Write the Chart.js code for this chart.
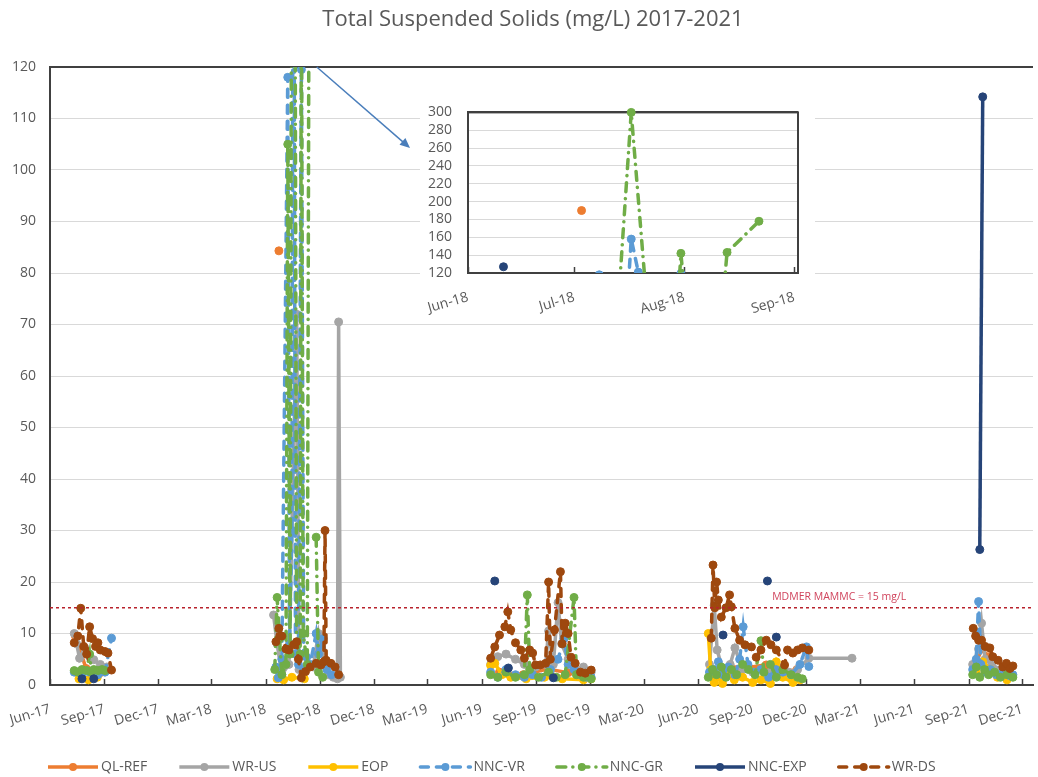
<!DOCTYPE html>
<html>
<head>
<meta charset="utf-8">
<title>Total Suspended Solids (mg/L) 2017-2021</title>
<script src="https://cdn.jsdelivr.net/npm/chart.js@4.4.1/dist/chart.umd.min.js"></script>
<style>
  html, body { margin: 0; padding: 0; background: #fff; }
  #wrap { position: relative; width: 1038px; height: 777px; }
  #tssChart { position: absolute; left: 0; top: 0; }
  #zoomChart { position: absolute; left: 420px; top: 88px; background: #fff; }
</style>
</head>
<body>
<div id="wrap">
  <canvas id="tssChart" width="1038" height="777"></canvas>
  <canvas id="zoomChart" width="395" height="232"></canvas>
</div>
<script>
// TSS results per station as [sample date, mg/L]; a null value ends the season's line
var qlRef = [
  ['2017-07-14', 9.5], ['2017-08-01', 3.2], ['2017-08-25', 2.4],
  ['2018-01-01', null],
  ['2018-06-23', 84.3], ['2018-06-28', null], ['2018-07-03', 190],
  ['2019-01-01', null],
  ['2019-07-01', 2.5], ['2019-08-10', 2.0], ['2019-09-20', 3.1], ['2019-10-25', 2.4],
  ['2020-01-01', null],
  ['2020-07-01', 2.0], ['2020-08-01', 3.0], ['2020-09-24', 3.9], ['2020-10-20', 2.5], ['2020-11-15', 3.0],
  ['2021-06-01', null],
  ['2021-09-12', 4.0], ['2021-09-24', 7.0], ['2021-10-05', 5.5], ['2021-10-20', 2.5], ['2021-11-05', 3.0]
];

var wrUs = [
  ['2017-07-12', 10], ['2017-07-16', 8], ['2017-07-21', 5.2], ['2017-07-30', 7.2], ['2017-08-07', 5.5],
  ['2017-08-14', 4.9], ['2017-08-25', 4.0], ['2017-09-05', 3.5],
  ['2018-01-01', null],
  ['2018-06-14', 13.6], ['2018-06-20', 8], ['2018-06-28', 2], ['2018-07-10', 4], ['2018-07-23', 72],
  ['2018-07-27', 3], ['2018-08-05', 3], ['2018-08-20', 3.5], ['2018-08-29', 10], ['2018-09-05', 6],
  ['2018-09-15', 2], ['2018-09-23', 1.5], ['2018-09-30', 1.2], ['2018-10-02', 70.5], ['2018-10-05', 1.5],
  ['2019-01-01', null],
  ['2019-06-16', 4], ['2019-06-28', 5.5], ['2019-07-12', 6], ['2019-07-28', 5], ['2019-08-12', 4],
  ['2019-08-31', 3.5], ['2019-09-17', 4], ['2019-09-22', 10.5], ['2019-09-30', 4], ['2019-10-08', 16],
  ['2019-10-14', 8], ['2019-10-25', 5], ['2019-11-06', 3], ['2019-11-20', 3.5], ['2019-12-03', 2.5],
  ['2020-01-01', null],
  ['2020-06-20', 4], ['2020-06-28', 15.5], ['2020-07-03', 6.8], ['2020-07-12', 3], ['2020-07-25', 4],
  ['2020-08-02', 7.2], ['2020-08-15', 3], ['2020-09-01', 2.5], ['2020-09-15', 3], ['2020-10-01', 2.5],
  ['2020-10-15', 3], ['2020-11-01', 2.5], ['2020-11-16', 3], ['2020-12-05', 5.2], ['2021-02-16', 5.2],
  ['2021-06-01', null],
  ['2021-09-08', 4], ['2021-09-18', 7], ['2021-09-23', 12], ['2021-09-29', 5], ['2021-10-10', 4],
  ['2021-10-25', 3], ['2021-11-10', 2.5]
];

var eop = [
  ['2017-07-20', 1.2], ['2017-08-05', 1.0], ['2017-08-20', 1.5],
  ['2018-01-01', null],
  ['2018-06-20', 1.2], ['2018-07-01', 1.0], ['2018-07-15', 1.5], ['2018-08-05', 1.2],
  ['2019-01-01', null],
  ['2019-06-16', 3.8], ['2019-06-23', 4.2], ['2019-07-05', 2], ['2019-07-20', 1.5], ['2019-08-15', 1.2],
  ['2019-09-15', 1.5], ['2019-10-15', 1.2], ['2019-11-20', 1.0], ['2019-12-03', 1.2],
  ['2020-01-01', null],
  ['2020-06-18', 10], ['2020-06-22', 3], ['2020-06-28', 0.5], ['2020-07-05', 1.5], ['2020-07-12', 0.3],
  ['2020-07-20', 2], ['2020-08-01', 1], ['2020-08-15', 1.5], ['2020-09-01', 0.5], ['2020-09-15', 1],
  ['2020-10-01', 0.3], ['2020-10-11', 4.5], ['2020-10-22', 1.5], ['2020-11-08', 0.5], ['2020-11-20', 1],
  ['2021-06-01', null],
  ['2021-09-14', 2.5], ['2021-09-25', 4.5], ['2021-10-08', 3], ['2021-10-20', 1.5], ['2021-11-05', 1]
];

var nncVr = [
  ['2017-07-12', 2.5], ['2017-07-25', 1.8], ['2017-08-07', 2.5], ['2017-08-21', 2.0], ['2017-09-02', 2.5],
  ['2017-09-13', 9.1],
  ['2018-01-01', null],
  ['2018-06-18', 3.5], ['2018-06-22', 1.4], ['2018-06-28', 5], ['2018-07-08', 118], ['2018-07-11', 8],
  ['2018-07-15', 30], ['2018-07-17', 158], ['2018-07-19', 121], ['2018-07-21', 6], ['2018-07-26', 4],
  ['2018-07-31', 119.5], ['2018-08-04', 3], ['2018-08-09', 5.4], ['2018-08-15', 4], ['2018-08-25', 10],
  ['2018-08-29', 6], ['2018-09-06', 9], ['2018-09-12', 3], ['2018-09-20', 2],
  ['2019-01-01', null],
  ['2019-06-16', 2.5], ['2019-06-28', 1.5], ['2019-07-12', 3], ['2019-07-28', 2], ['2019-08-12', 1.5],
  ['2019-08-26', 2], ['2019-09-10', 1.5], ['2019-09-25', 3], ['2019-10-08', 5], ['2019-10-18', 9],
  ['2019-10-25', 4], ['2019-11-04', 3], ['2019-11-15', 2], ['2019-11-25', 1.5], ['2019-12-03', 1.5],
  ['2020-01-01', null],
  ['2020-06-20', 2.5], ['2020-06-28', 3], ['2020-07-05', 4.5], ['2020-07-13', 2], ['2020-07-22', 3.5],
  ['2020-08-02', 2], ['2020-08-10', 5], ['2020-08-16', 11.3], ['2020-08-24', 4], ['2020-09-05', 2.5],
  ['2020-09-15', 3], ['2020-09-28', 1.5], ['2020-10-10', 3], ['2020-10-22', 2.5], ['2020-11-05', 2],
  ['2020-11-20', 4], ['2020-12-01', 7.4], ['2020-12-05', 3.6],
  ['2021-06-01', null],
  ['2021-09-08', 3], ['2021-09-14', 5], ['2021-09-18', 16.2], ['2021-09-22', 4], ['2021-09-29', 2.5],
  ['2021-10-08', 3], ['2021-10-18', 2], ['2021-10-29', 2.5], ['2021-11-10', 1.8], ['2021-11-15', 2]
];

var nncGr = [
  ['2017-07-12', 2.8], ['2017-07-18', 2.5], ['2017-07-25', 3.0], ['2017-08-02', 2.8], ['2017-08-07', 6.0],
  ['2017-08-10', 2.5], ['2017-08-14', 3.0], ['2017-08-21', 2.8], ['2017-08-28', 3.0], ['2017-09-02', 2.8],
  ['2018-01-01', null],
  ['2018-06-16', 3], ['2018-06-20', 17], ['2018-06-24', 9], ['2018-06-28', 2], ['2018-07-05', 4],
  ['2018-07-08', 105], ['2018-07-12', 6], ['2018-07-17', 300], ['2018-07-23', 8], ['2018-07-29', 6],
  ['2018-07-31', 142], ['2018-08-03', 10], ['2018-08-10', 4], ['2018-08-13', 143], ['2018-08-22', 178],
  ['2018-08-23', null],
  ['2018-08-25', 28.7], ['2018-08-29', 2.5], ['2018-09-05', 1.5],
  ['2019-01-01', null],
  ['2019-06-16', 2], ['2019-06-28', 1.5], ['2019-07-12', 2.5], ['2019-07-28', 1.5], ['2019-08-12', 2],
  ['2019-08-17', 17.5], ['2019-08-21', 3], ['2019-09-05', 1.5], ['2019-09-22', 2.5], ['2019-10-05', 1.5],
  ['2019-10-20', 2], ['2019-11-04', 17], ['2019-11-08', 2], ['2019-11-20', 1.5], ['2019-12-03', 1.2],
  ['2020-01-01', null],
  ['2020-06-18', 1.5], ['2020-06-25', 3], ['2020-07-02', 2], ['2020-07-10', 3.5], ['2020-07-18', 1.5],
  ['2020-07-27', 3], ['2020-08-05', 2], ['2020-08-15', 4], ['2020-08-25', 3], ['2020-09-05', 2],
  ['2020-09-15', 8.6], ['2020-09-20', 2.5], ['2020-10-01', 4], ['2020-10-11', 1.5], ['2020-10-22', 3],
  ['2020-11-05', 2], ['2020-11-16', 1.5], ['2020-11-24', 1.2],
  ['2021-06-01', null],
  ['2021-09-08', 2], ['2021-09-14', 3.5], ['2021-09-20', 1.5], ['2021-09-28', 3], ['2021-10-05', 2],
  ['2021-10-15', 2.5], ['2021-10-25', 1.5], ['2021-11-05', 2], ['2021-11-15', 1.5]
];

var nncExp = [
  ['2017-07-25', 1.2], ['2017-08-01', null], ['2017-08-14', 1.2],
  ['2018-01-01', null],
  ['2018-06-11', 127],
  ['2019-01-01', null],
  ['2019-06-23', 20.2], ['2019-07-01', null], ['2019-07-16', 3.3], ['2019-08-01', null], ['2019-09-30', 1.4],
  ['2020-01-01', null],
  ['2020-07-13', 9.7], ['2020-08-01', null], ['2020-09-26', 20.2], ['2020-10-01', null], ['2020-10-11', 9.3],
  ['2021-06-01', null],
  ['2021-09-20', 26.3], ['2021-09-25', 114.2]
];

var wrDs = [
  ['2017-07-12', 8.2], ['2017-07-18', 9.5], ['2017-07-23', 14.9], ['2017-07-28', 7.5], ['2017-08-02', 6.0],
  ['2017-08-07', 11.3], ['2017-08-12', 9.0], ['2017-08-17', 7.5], ['2017-08-21', 8.2], ['2017-08-25', 6.8],
  ['2017-09-02', 6.5], ['2017-09-07', 6.2], ['2017-09-13', 2.9],
  ['2018-01-01', null],
  ['2018-06-18', 8.4], ['2018-06-23', 11], ['2018-06-28', 9.5], ['2018-07-05', 7], ['2018-07-10', 6.8],
  ['2018-07-18', 7.8], ['2018-07-23', 8.4], ['2018-07-26', 5], ['2018-07-31', 1.4], ['2018-08-07', 2.6],
  ['2018-08-15', 3.5], ['2018-08-25', 4.2], ['2018-09-02', 3.9], ['2018-09-07', 4.5], ['2018-09-09', 30],
  ['2018-09-11', 4.8], ['2018-09-19', 4.2], ['2018-09-26', 3.5], ['2018-10-02', 2],
  ['2019-01-01', null],
  ['2019-06-16', 5.2], ['2019-06-23', 7.4], ['2019-07-01', 9.7], ['2019-07-10', 11.3], ['2019-07-15', 14.2],
  ['2019-07-20', 10.7], ['2019-07-28', 8.2], ['2019-08-06', 6.8], ['2019-08-12', 5.2], ['2019-08-21', 6.8],
  ['2019-08-26', 6.2], ['2019-08-31', 3.9], ['2019-09-08', 3.9], ['2019-09-17', 4.2], ['2019-09-22', 20.0],
  ['2019-09-25', 5.0], ['2019-10-02', 10.7], ['2019-10-12', 22.0], ['2019-10-15', 8.0], ['2019-10-20', 12.0],
  ['2019-10-25', 10.0], ['2019-10-30', 5.4], ['2019-11-06', 4.2], ['2019-11-15', 2.5], ['2019-11-23', 2.3],
  ['2019-12-03', 2.9],
  ['2020-01-01', null],
  ['2020-06-23', 9.1], ['2020-06-26', 23.3], ['2020-06-29', 15.0], ['2020-07-02', 20.0], ['2020-07-05', 16.5],
  ['2020-07-10', 13.2], ['2020-07-18', 15.0], ['2020-07-24', 17.5], ['2020-07-27', 15.2], ['2020-08-02', 11.0],
  ['2020-08-10', 8.7], ['2020-08-19', 7.8], ['2020-08-30', 7.4], ['2020-09-07', 5.4], ['2020-09-15', 6.8],
  ['2020-09-24', 8.7], ['2020-10-02', 7.8], ['2020-10-11', 6.8], ['2020-10-25', 3.9], ['2020-10-30', 6.8],
  ['2020-11-08', 6.2], ['2020-11-16', 6.8], ['2020-11-24', 7.2], ['2020-12-05', 6.8],
  ['2021-06-01', null],
  ['2021-09-09', 11.0], ['2021-09-13', 9.5], ['2021-09-18', 8.7], ['2021-09-23', 8.7], ['2021-09-29', 7.5],
  ['2021-10-07', 7.2], ['2021-10-12', 5.5], ['2021-10-21', 4.8], ['2021-10-29', 3.5], ['2021-11-04', 4.2],
  ['2021-11-10', 3.2], ['2021-11-15', 3.7]
];

// MDMER maximum authorized monthly mean concentration
var mdmerLimit = 15;
var mdmerText = 'MDMER MAMMC = 15 mg/L';

// axis ticks (first of month)
var mainTicks = ['2017-06', '2017-09', '2017-12', '2018-03', '2018-06', '2018-09', '2018-12', '2019-03',
  '2019-06', '2019-09', '2019-12', '2020-03', '2020-06', '2020-09', '2020-12', '2021-03', '2021-06',
  '2021-09', '2021-12'];
var zoomTicks = ['2018-06', '2018-07', '2018-08', '2018-09'];

var stations = [
  { label: 'QL-REF', points: qlRef, color: '#ED7D31', dash: [] },
  { label: 'WR-US', points: wrUs, color: '#A5A5A5', dash: [] },
  { label: 'EOP', points: eop, color: '#FFC000', dash: [] },
  { label: 'NNC-VR', points: nncVr, color: '#5B9BD5', dash: [8, 8] },
  { label: 'NNC-GR', points: nncGr, color: '#70AD47', dash: [9, 7, 0.1, 7] },
  { label: 'NNC-EXP', points: nncExp, color: '#264478', dash: [] },
  { label: 'WR-DS', points: wrDs, color: '#9E480E', dash: [8, 8] }
];

var MONTHS = ['Jan', 'Feb', 'Mar', 'Apr', 'May', 'Jun', 'Jul', 'Aug', 'Sep', 'Oct', 'Nov', 'Dec'];
var TEXT = '#595959';
var AXIS = '#404040';
var GRID = '#d9d9d9';

Chart.defaults.font.family = "'Open Sans', 'Liberation Sans', sans-serif";
Chart.defaults.color = TEXT;

function toTime(s) {
  var p = s.split('-');
  return Date.UTC(+p[0], +p[1] - 1, p[2] ? +p[2] : 1);
}

function monthLabel(t) {
  var d = new Date(t);
  return MONTHS[d.getUTCMonth()] + '-' + String(d.getUTCFullYear()).slice(2);
}

function buildDatasets(clip) {
  return stations.map(function (s, i) {
    return {
      label: s.label,
      data: s.points.map(function (p) { return { x: toTime(p[0]), y: p[1] }; }),
      borderColor: s.color,
      backgroundColor: s.color,
      pointBackgroundColor: s.color,
      pointBorderColor: s.color,
      borderWidth: 3.5,
      borderDash: s.dash,
      borderCapStyle: s.dash.length ? 'round' : 'butt',
      pointRadius: 4,
      pointBorderWidth: 1,
      pointHoverRadius: 4,
      tension: 0,
      spanGaps: false,
      clip: clip,
      order: stations.length - i + 1
    };
  });
}

function xAxis(min, max, ticks, height) {
  return {
    type: 'linear',
    min: toTime(min),
    max: toTime(max),
    afterBuildTicks: function (axis) {
      axis.ticks = ticks.map(function (m) { return { value: toTime(m) }; });
    },
    afterFit: function (axis) { axis.height = height; },
    grid: { display: false },
    border: { color: AXIS, width: 2 },
    ticks: {
      autoSkip: false,
      minRotation: 16,
      maxRotation: 16,
      padding: 8,
      font: { size: 14 },
      callback: function (v) { return monthLabel(v); }
    }
  };
}

function yAxis(min, max, step, width, pad) {
  return {
    min: min,
    max: max,
    afterFit: function (axis) { axis.width = width; },
    ticks: { stepSize: step, padding: pad, autoSkip: false, font: { size: 14 } },
    grid: {
      drawTicks: false,
      color: function (c) { return c.tick.value === max ? AXIS : GRID; },
      lineWidth: function (c) { return c.tick.value === max ? 2 : 1; }
    },
    border: { color: AXIS, width: 2 }
  };
}

// short tick marks pointing up into the plot from the date axis
var innerTicks = {
  id: 'innerTicks',
  beforeDatasetsDraw: function (chart) {
    var ctx = chart.ctx, x = chart.scales.x, bottom = chart.chartArea.bottom;
    ctx.save();
    ctx.strokeStyle = AXIS;
    ctx.lineWidth = 1.5;
    x.ticks.forEach(function (t) {
      var px = Math.round(x.getPixelForValue(t.value)) + 0.5;
      ctx.beginPath();
      ctx.moveTo(px, bottom);
      ctx.lineTo(px, bottom - 6);
      ctx.stroke();
    });
    ctx.restore();
  }
};

// title, legend, limit label and the arrow to the zoomed panel
var decorations = {
  id: 'decorations',
  afterDraw: function (chart) {
    var ctx = chart.ctx, x = chart.scales.x, y = chart.scales.y;
    ctx.save();

    ctx.fillStyle = TEXT;
    ctx.font = "22px 'Open Sans', sans-serif";
    ctx.textAlign = 'center';
    ctx.textBaseline = 'middle';
    ctx.fillText('Total Suspended Solids (mg/L) 2017-2021', 533, 20);

    ctx.fillStyle = '#D0435C';
    ctx.font = "10.5px 'Open Sans', sans-serif";
    ctx.textAlign = 'left';
    ctx.fillText(mdmerText, x.getPixelForValue(toTime('2020-10-04')), y.getPixelForValue(mdmerLimit) - 11);

    // arrow from the clipped peaks to the inset
    var x0 = x.getPixelForValue(toTime('2018-08-26')), y0 = y.getPixelForValue(120);
    var x1 = 410, y1 = 148;
    var ang = Math.atan2(y1 - y0, x1 - x0);
    ctx.strokeStyle = '#4A7EBB';
    ctx.fillStyle = '#4A7EBB';
    ctx.lineWidth = 1.5;
    ctx.beginPath();
    ctx.moveTo(x0, y0);
    ctx.lineTo(x1 - 6 * Math.cos(ang), y1 - 6 * Math.sin(ang));
    ctx.stroke();
    ctx.beginPath();
    ctx.moveTo(x1, y1);
    ctx.lineTo(x1 - 10 * Math.cos(ang) + 4.5 * Math.sin(ang), y1 - 10 * Math.sin(ang) - 4.5 * Math.cos(ang));
    ctx.lineTo(x1 - 10 * Math.cos(ang) - 4.5 * Math.sin(ang), y1 - 10 * Math.sin(ang) + 4.5 * Math.cos(ang));
    ctx.closePath();
    ctx.fill();

    // legend: line sample with marker, then the station name
    ctx.font = "14px 'Open Sans', sans-serif";
    ctx.textBaseline = 'middle';
    var lx = 48, ly = 767;
    stations.forEach(function (s) {
      ctx.strokeStyle = s.color;
      ctx.fillStyle = s.color;
      ctx.lineWidth = 3.5;
      ctx.lineCap = s.dash.length ? 'round' : 'butt';
      ctx.setLineDash(s.dash);
      ctx.beginPath();
      ctx.moveTo(lx, ly);
      ctx.lineTo(lx + 50, ly);
      ctx.stroke();
      ctx.setLineDash([]);
      ctx.beginPath();
      ctx.arc(lx + 25, ly, 4, 0, Math.PI * 2);
      ctx.fill();
      ctx.fillStyle = TEXT;
      ctx.fillText(s.label, lx + 53, ly);
      lx += 53 + ctx.measureText(s.label).width + 32;
    });
    ctx.restore();
  }
};

var mainMin = '2017-06-01', mainMax = '2021-12-19';

var limitLine = {
  label: 'MDMER MAMMC',
  data: [{ x: toTime(mainMin), y: mdmerLimit }, { x: toTime(mainMax), y: mdmerLimit }],
  borderColor: '#B8222C',
  borderWidth: 1.4,
  borderDash: [3, 3],
  pointRadius: 0,
  order: 0
};

new Chart(document.getElementById('tssChart'), {
  type: 'line',
  data: { datasets: buildDatasets({ left: 6, right: 6, top: 0, bottom: 6 }).concat([limitLine]) },
  options: {
    responsive: false,
    animation: false,
    layout: { padding: { top: 67, right: 0, bottom: 0, left: 0 } },
    plugins: { legend: { display: false }, title: { display: false }, tooltip: { enabled: false } },
    scales: {
      x: xAxis(mainMin, mainMax, mainTicks, 92),
      y: yAxis(0, 120, 10, 50, 14)
    }
  },
  plugins: [innerTicks, decorations]
});

// box around the zoomed panel
var frame = {
  id: 'frame',
  beforeDatasetsDraw: function (chart) {
    var a = chart.chartArea, ctx = chart.ctx;
    ctx.save();
    ctx.strokeStyle = AXIS;
    ctx.lineWidth = 2;
    ctx.strokeRect(a.left, a.top, a.right - a.left, a.bottom - a.top);
    ctx.restore();
  }
};

// zoomed panel: Jun-Sep 2018 peaks above 120 mg/L
new Chart(document.getElementById('zoomChart'), {
  type: 'line',
  data: { datasets: buildDatasets({ left: 0, right: 0, top: 6, bottom: 0 }) },
  options: {
    responsive: false,
    animation: false,
    layout: { padding: { top: 17, right: 17, bottom: 0, left: 0 } },
    plugins: { legend: { display: false }, title: { display: false }, tooltip: { enabled: false } },
    scales: {
      x: xAxis('2018-06-01', '2018-09-02', zoomTicks, 47),
      y: yAxis(120, 300, 20, 48, 16)
    }
  },
  plugins: [innerTicks, frame]
});
</script>
